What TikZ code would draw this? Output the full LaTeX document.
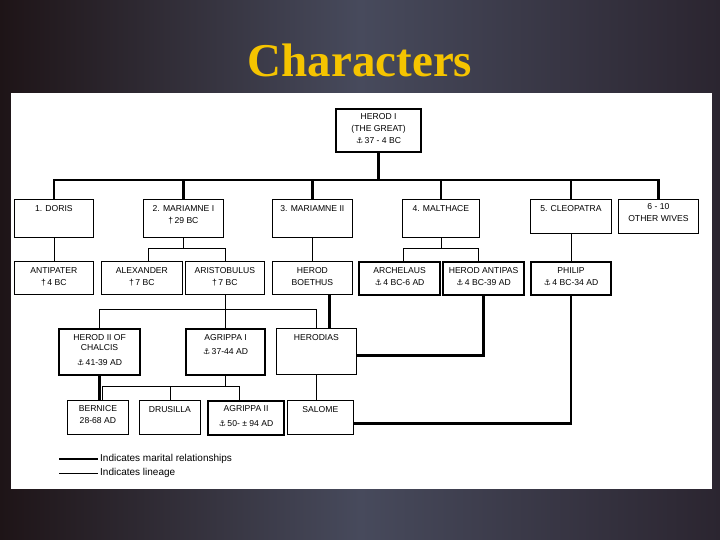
\documentclass[tikz,border=0pt]{standalone}
\usepackage{fontspec}
\setmainfont{Liberation Sans}
\newfontfamily\titlefont{Liberation Serif}
\newfontfamily\symfont{DejaVu Sans}
\definecolor{slate}{HTML}{474A5C}
\definecolor{slateleft}{HTML}{1E1417}
\definecolor{slateright}{HTML}{2B2530}
\definecolor{gold}{HTML}{F5C400}
\newcommand{\reign}{{\symfont\fontsize{8}{8}\selectfont ⚓}\,}
\newcommand{\died}{†\,}

\begin{document}
\begin{tikzpicture}[
  x=1pt, y=-1pt,
  wed/.style={line width=2.6pt},
  kin/.style={line width=0.8pt},
  person/.style 2 args={draw, line width=0.8pt, minimum width=#1,
    minimum height=#2, anchor=north west, inner sep=0pt},
  ruler/.style={line width=2.2pt},
  who/.style={font=\fontsize{8.6}{12}\selectfont, align=center,
    inner sep=0pt, anchor=north, yshift=-6pt},
  note/.style={font=\fontsize{10}{12}\selectfont, anchor=west, inner sep=2pt}
]
% ---- slide ----
\useasboundingbox (0,0) rectangle (720,540);
\shade[left color=slateleft, right color=slateright, middle color=slate]
  (0,0) rectangle (720,540);
\fill[white] (11,93) rectangle (712,489);
\node[font=\titlefont\bfseries\fontsize{47}{47}\selectfont, text=gold]
  (title) at (360,60) {Characters};
% ---- Herod the Great ----
\node[person={85}{43}, ruler,
  label={[who, yshift=1pt]north:{HEROD I\\(THE GREAT)\\\reign 37 - 4 BC}}]
  (herod) at (335,108) {};
% ---- wives ----
\node[person={79}{38}, label={[who]north:{1. DORIS}}] (doris) at (14,199) {};
\node[person={80}{38}, label={[who]north:{2. MARIAMNE I\\\died 29 BC}}]
  (mar1) at (143,199) {};
\node[person={80}{38}, label={[who]north:{3. MARIAMNE II}}] (mar2) at (272,199) {};
\node[person={77}{38}, label={[who]north:{4. MALTHACE}}] (malt) at (402,199) {};
\node[person={81}{34}, label={[who]north:{5. CLEOPATRA}}] (cleo) at (530,199) {};
\node[person={80}{34}, label={[who, yshift=2pt]north:{6 - 10\\OTHER WIVES}}]
  (others) at (618,199) {};
% ---- sons ----
\node[person={79}{33}, label={[who]north:{ANTIPATER\\\died 4 BC}}]
  (antip) at (14,261) {};
\node[person={81}{33}, label={[who]north:{ALEXANDER\\\died 7 BC}}]
  (alex) at (101,261) {};
\node[person={79}{33}, label={[who]north:{ARISTOBULUS\\\died 7 BC}}]
  (arist) at (185,261) {};
\node[person={80}{33}, label={[who]north:{HEROD\\BOETHUS}}]
  (boeth) at (272,261) {};
\node[person={81}{33}, ruler, label={[who]north:{ARCHELAUS\\\reign 4 BC-6 AD}}]
  (arch) at (358,261) {};
\node[person={81}{33}, ruler, label={[who]north:{HEROD ANTIPAS\\\reign 4 BC-39 AD}}]
  (antipas) at (442,261) {};
\node[person={80}{33}, ruler, label={[who]north:{PHILIP\\\reign 4 BC-34 AD}}]
  (philip) at (530,261) {};
% ---- grandchildren ----
\node[person={81}{46}, ruler,
  label={[who]north:{HEROD II OF\\[-2pt]CHALCIS\\[3pt]\reign 41-39 AD}}]
  (herod2) at (58,328) {};
\node[person={79}{46}, ruler, label={[who]north:{AGRIPPA I\\[2pt]\reign 37-44 AD}}]
  (agr1) at (185,328) {};
\node[person={80}{46}, label={[who]north:{HERODIAS}}] (herodias) at (276,328) {};
% ---- great-grandchildren ----
\node[person={61}{34}, label={[who, yshift=1pt]north:{BERNICE\\28-68 AD}}]
  (bern) at (67,400) {};
\node[person={61}{34}, label={[who]north:{DRUSILLA}}] (drus) at (139,400) {};
\node[person={76}{34}, ruler, label={[who, yshift=1pt]north:{AGRIPPA II\\[3pt]\reign 50- ± 94 AD}}]
  (agr2) at (207,400) {};
\node[person={66}{34}, label={[who]north:{SALOME}}] (salome) at (287,400) {};
% ---- bars ----
\coordinate (wbar) at (0,180);
\coordinate (sbar) at (0,248);
\coordinate (gbar) at (0,309);
\coordinate (ggbar) at (0,386);
% ---- marriages ----
\draw[wed] (herod.south) -- (herod.south |- wbar);
\draw[wed] (doris.north) -- (doris.north |- wbar) -- (others.north |- wbar)
  -- (others.north);
\foreach \w in {mar1,mar2,malt,cleo}
  \draw[wed] (\w.north) -- (\w.north |- wbar);
\draw[wed] ([xshift=17pt]boeth.south) -- ([xshift=17pt]boeth.south |- herodias.north);
\draw[wed] ([yshift=-4pt]herodias.east) -| (antipas.south);
\draw[wed] (herod2.south) -- (herod2.south |- bern.north);
\draw[wed] ([yshift=-6pt]salome.east) -| (philip.south);
% ---- lineage ----
\draw[kin] (doris) -- (antip);
\draw[kin] (mar2) -- (boeth);
\draw[kin] (cleo.south) -- (cleo.south |- philip.north);
\draw[kin] (mar1.south) -- (mar1.south |- sbar);
\draw[kin] ([xshift=6pt]alex.north) -- ([xshift=6pt]alex.north |- sbar)
  -- (arist.north |- sbar) -- (arist.north);
\draw[kin] (malt.south) -- (malt.south |- sbar);
\draw[kin] ([xshift=4pt]arch.north) -- ([xshift=4pt]arch.north |- sbar)
  -- ([xshift=-5pt]antipas.north |- sbar) -- ([xshift=-5pt]antipas.north);
\draw[kin] (arist.south) -- (arist.south |- agr1.north);
\draw[kin] (herod2.north) -- (herod2.north |- gbar) -- (herodias.north |- gbar)
  -- (herodias.north);
\draw[kin] (agr1.south) -- (agr1.south |- ggbar);
\draw[kin] ([xshift=4pt]bern.north) -- ([xshift=4pt]bern.north |- ggbar)
  -- ([xshift=-7pt]agr2.north |- ggbar) -- ([xshift=-7pt]agr2.north);
\draw[kin] (drus.north) -- (drus.north |- ggbar);
\draw[kin] (herodias.south) -- (herodias.south |- salome.north);
% ---- legend ----
\coordinate (lgwedA) at (59,459);
\node[note] (lgwed) at (98,459) {Indicates marital relationships};
\draw[wed] (lgwedA) -- (lgwed.west);
\coordinate (lgkinA) at (59,473);
\node[note] (lgkin) at (98,473) {Indicates lineage};
\draw[kin] (lgkinA) -- (lgkin.west);
\end{tikzpicture}
\end{document}
